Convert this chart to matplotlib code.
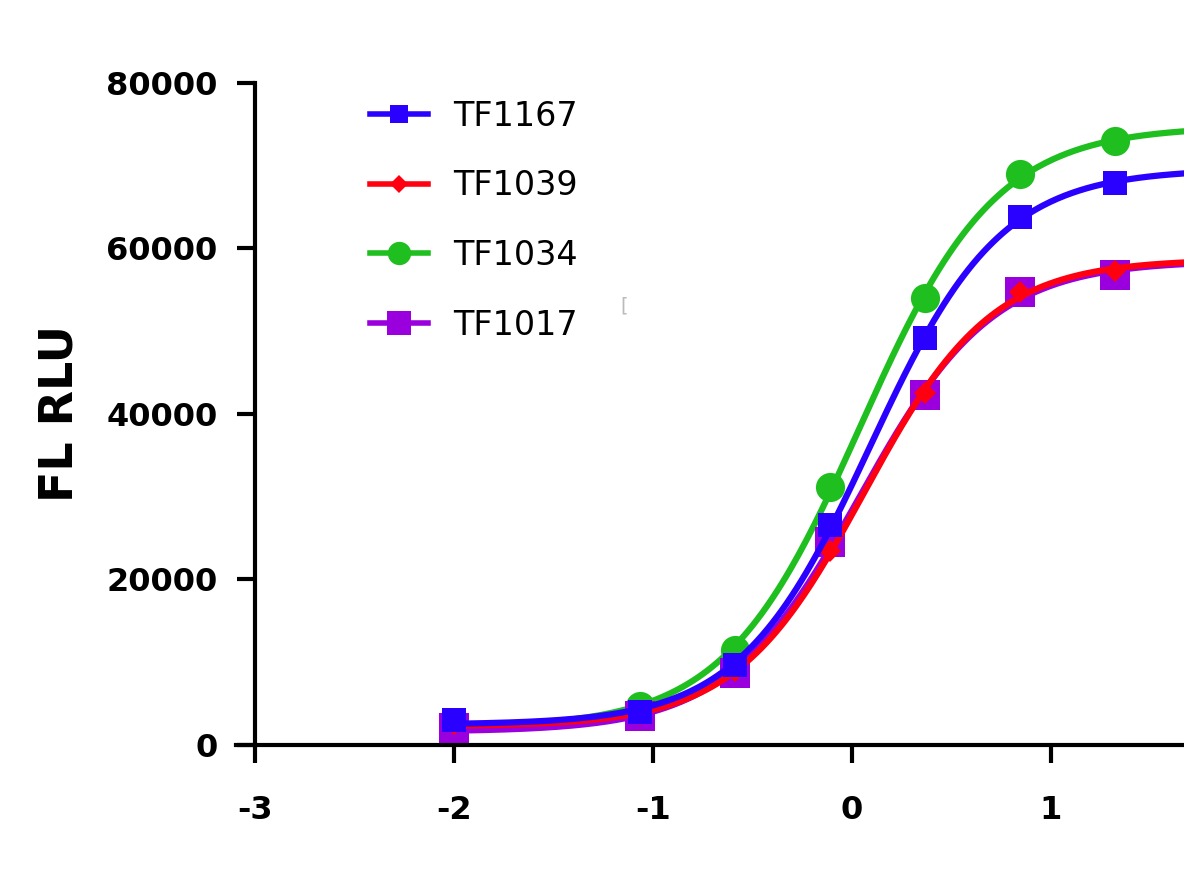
import numpy as np
import matplotlib
matplotlib.use("Agg")
import matplotlib.pyplot as plt

# log10 concentration (3-fold dilutions plus the lowest point)
log_conc = [-2.0, -1.064, -0.586, -0.109, 0.368, 0.845, 1.322]

tf1167 = [3000, 4000, 9700, 26600, 49200, 63800, 67900]
tf1039 = [2500, 3700, 8900, 23500, 42500, 54800, 57300]
tf1034 = [2600, 4700, 11500, 31200, 54000, 69000, 73000]
tf1017 = [2000, 3500, 8700, 24500, 42300, 54800, 56800]

x_ticks = [-3, -2, -1, 0, 1]
y_ticks = [0, 20000, 40000, 60000, 80000]


def fit_4pl(x, y):
    # 4 parameter logistic: grid over EC50 / hill, least squares for bottom / top
    x = np.asarray(x, dtype=float)
    y = np.asarray(y, dtype=float)
    best = None
    for c in np.linspace(-0.6, 0.8, 141):
        for h in np.linspace(0.5, 3.0, 101):
            s = 1.0 / (1.0 + 10 ** ((c - x) * h))
            A = np.column_stack([1 - s, s])
            coef, *_ = np.linalg.lstsq(A, y, rcond=None)
            err = ((A @ coef - y) ** 2).sum()
            if best is None or err < best[0]:
                best = (err, c, h, coef)
    _, c, h, (bottom, top) = best
    return lambda t: bottom + (top - bottom) / (1.0 + 10 ** ((c - t) * h))


fig = plt.figure(figsize=(11.84, 8.83), dpi=100)
ax = fig.add_axes([0.1993, 0.1563, 0.8007, 0.7497])

series = [
    ("TF1034", tf1034, "#1fbf1f", "o", 21),
    ("TF1017", tf1017, "#9a00dd", "s", 21),
    ("TF1039", tf1039, "#ff0010", "D", 11),
    ("TF1167", tf1167, "#2a00ff", "s", 17),
]

xs = np.linspace(-2.0, 1.7, 300)
handles = {}
for name, vals, color, marker, ms in series:
    f = fit_4pl(log_conc, vals)
    ax.plot(xs, f(xs), color=color, lw=4.5, solid_capstyle="butt")
    ax.plot(log_conc, vals, linestyle="none", marker=marker, ms=ms,
            color=color, markeredgewidth=0)
    h, = ax.plot([], [], color=color, lw=4, marker=marker,
                 ms=ms * 0.8, markeredgewidth=0)
    handles[name] = h

order = ["TF1167", "TF1039", "TF1034", "TF1017"]
leg = ax.legend([handles[n] for n in order], order, loc="upper left",
                bbox_to_anchor=(0.1415, 0.975), frameon=False,
                prop={"family": "DejaVu Sans", "size": 24},
                handlelength=1.73, handletextpad=0.76, labelspacing=1.1,
                borderpad=0, borderaxespad=0)

ax.text(0.405, 0.655, "[", transform=ax.transAxes, color="#bbbbbb", fontsize=14)

ax.set_xlim(-3.095, 1.668)
ax.set_ylim(0, 80000)
ax.spines["left"].set_position(("data", -3))
ax.spines["right"].set_visible(False)
ax.spines["top"].set_visible(False)
for s in ["left", "bottom"]:
    ax.spines[s].set_linewidth(3)

ax.set_xticks(x_ticks)
ax.set_yticks(y_ticks)
ax.set_xticklabels([str(t) for t in x_ticks])
ax.set_yticklabels([str(t) for t in y_ticks])
ax.tick_params(width=3, length=13, direction="out")
ax.tick_params(axis="x", pad=23)
ax.tick_params(axis="y", pad=14)
for lab in ax.get_xticklabels() + ax.get_yticklabels():
    lab.set_fontfamily("DejaVu Sans")
    lab.set_fontweight("bold")
    lab.set_fontsize(23)

ax.set_ylabel("FL RLU", fontsize=33, fontweight="bold", family="DejaVu Sans")
ax.yaxis.set_label_coords(-0.1615, 0.5)

fig.savefig("out.png", dpi=100)
